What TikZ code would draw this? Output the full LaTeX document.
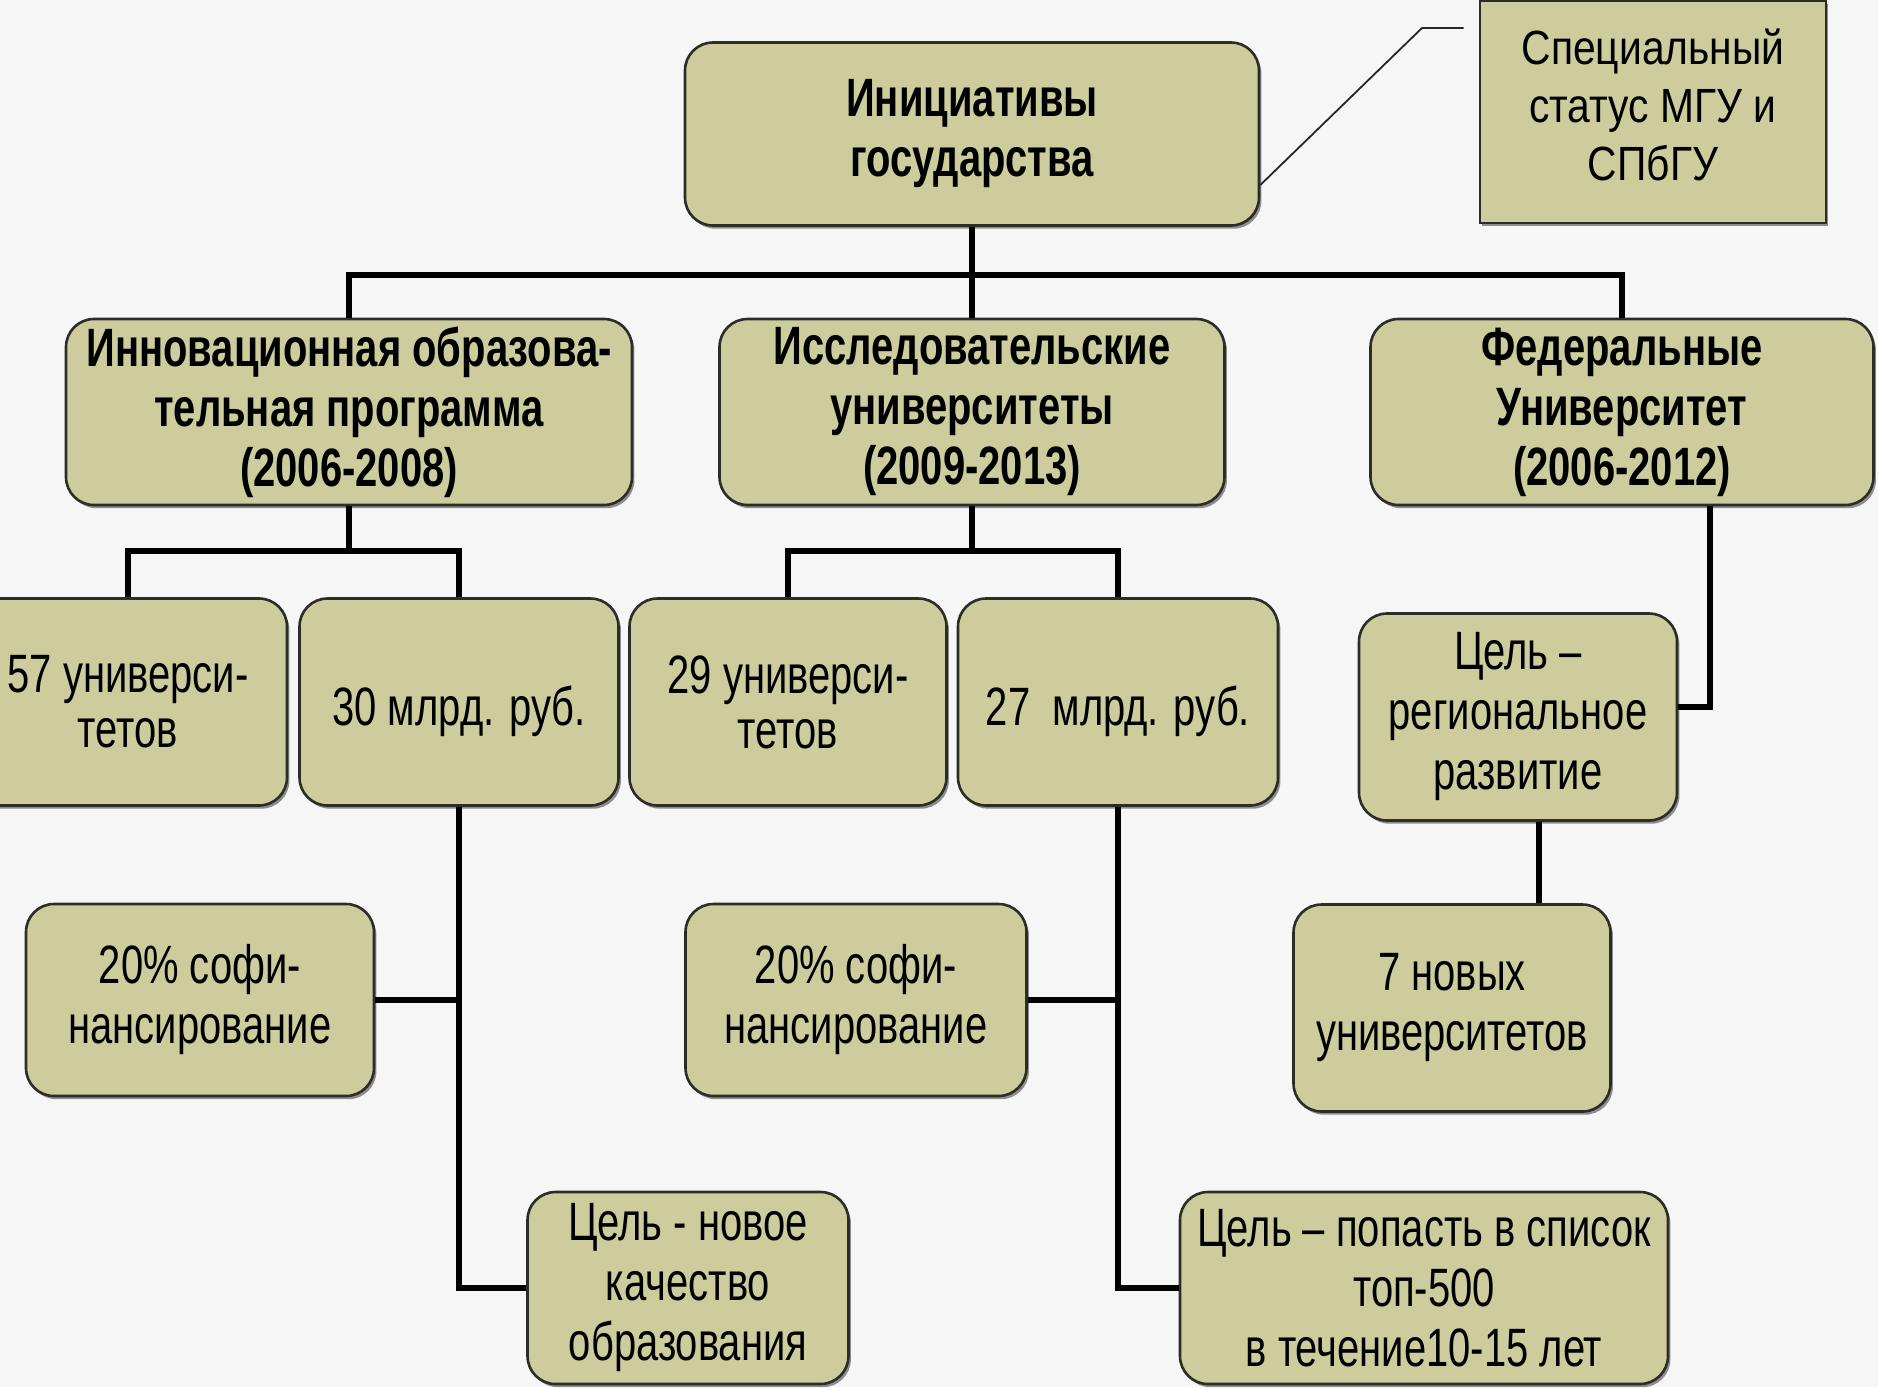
\documentclass[tikz,border=0pt]{standalone}
\usepackage{fontspec}
\setmainfont[FakeStretch=0.74]{Liberation Sans}
\newfontfamily\specfont[FakeStretch=0.85]{Liberation Sans}
\usetikzlibrary{shadows}
\definecolor{boxfill}{RGB}{204,204,156}
\definecolor{bg}{RGB}{246,246,246}
\definecolor{edge}{RGB}{45,45,40}
\newcommand\topstrut[1]{\rule{0pt}{#1}}
\tikzset{
  box/.style={draw=edge, line width=1.3pt, fill=boxfill, rounded corners=14pt,
    align=center, inner sep=2pt,
    execute at begin node={\topstrut{24pt}},
    font=\fontsize{27pt}{30pt}\selectfont,
    drop shadow={shadow xshift=1.2pt, shadow yshift=-1.6pt, fill=black!55, opacity=0.8}},
  lowtext/.style={execute at begin node={\topstrut{29pt}}},
  sqbox/.style={box, rounded corners=0pt, font=\specfont\fontsize{24pt}{29pt}\selectfont,
    execute at begin node={}, execute at end node={\rule[-7pt]{0pt}{0pt}}},
  bold/.style={font=\fontsize{27pt}{30pt}\selectfont\bfseries},
  tight/.style={font=\fontsize{27pt}{27.5pt}\selectfont},
  conn/.style={draw=black, line width=2.6pt},
  thinconn/.style={draw=black!85, line width=0.9pt}
}
\begin{document}
\begin{tikzpicture}[x=0.5pt, y=-0.5pt]
\fill[bg] (0,0) rectangle (1878,1387);
\useasboundingbox (0,0) rectangle (1878,1387);

% nodes
\node[box, bold, minimum width=287pt, minimum height=91.5pt] (T) at (972,134) {Инициативы\\государства};
\node[sqbox, minimum width=173pt, minimum height=111pt] (S) at (1653,112) {Специальный\\статус МГУ и\\СПбГУ};

\node[box, bold, minimum width=283pt, minimum height=93pt] (A) at (349,412) {Инновационная образова-\\тельная программа\\(2006-2008)};
\node[box, bold, minimum width=252.5pt, minimum height=93pt] (B) at (972,412) {Исследовательские\\университеты\\(2009-2013)};
\node[box, bold, minimum width=251.5pt, minimum height=93pt] (C) at (1622,412) {Федеральные\\Университет\\(2006-2012)};

\node[box, tight, minimum width=159pt, minimum height=103.5pt] (A1) at (128,702) {57 универси-\\тетов};
\node[box, lowtext, minimum width=159.5pt, minimum height=103.5pt] (A2) at (459,702) {30 млрд. руб.};
\node[box, tight, minimum width=158.5pt, minimum height=103.5pt] (B1) at (788,702) {29 универси-\\тетов};
\node[box, lowtext, minimum width=160pt, minimum height=103.5pt] (B2) at (1118,702) {27\ \ млрд. руб.};

\node[box, minimum width=174pt, minimum height=96pt] (A3) at (200,1000) {20\% софи-\\нансирование};
\node[box, minimum width=170.5pt, minimum height=96pt] (B3) at (856,1000) {20\% софи-\\нансирование};
\node[box, minimum width=160.5pt, minimum height=96pt] (A4) at (688,1288) {Цель - новое\\качество\\образования};
\node[box, minimum width=244pt, minimum height=96pt] (B4) at (1424,1288) {Цель – попасть в список\\топ-500\\в течение10-15 лет};

\node[box, minimum width=159pt, minimum height=103.5pt] (C1) at (1518,717) {Цель –\\региональное\\развитие};
\node[box, minimum width=158.5pt, minimum height=103.5pt] (C2) at (1452,1008) {7 новых\\университетов};

% connectors
\coordinate (sk) at (1422,28);
\draw[thinconn] ([yshift=-25.5pt]T.east) -- (sk) -- ([xshift=-7.5pt]S.west |- sk);

\draw[conn] (T.south) -- (B.north);
\draw[conn] (A.north) -- (A.north |- 0,275) -- (C.north |- 0,275) -- (C.north);

\draw[conn] (A.south) -- (A.south |- 0,551);
\draw[conn] (A1.north) -- (A1.north |- 0,551) -- (A2.north |- 0,551) -- (A2.north);
\draw[conn] (B.south) -- (B.south |- 0,551);
\draw[conn] (B1.north) -- (B1.north |- 0,551) -- (B2.north |- 0,551) -- (B2.north);

\draw[conn] (A2.south) -- (A2.south |- A4.west) -- (A4.west);
\draw[conn] (A3.east) -- (A3.east -| A2.south);
\draw[conn] (B2.south) -- (B2.south |- B4.west) -- (B4.west);
\draw[conn] (B3.east) -- (B3.east -| B2.south);

\draw[conn] ([xshift=44pt]C.south) -- ([xshift=44pt,yshift=5pt]C.south |- C1.east) -- ([yshift=5pt]C1.east);
\draw[conn] ([xshift=10.5pt]C1.south) -- ([xshift=10.5pt]C1.south |- C2.north);
\end{tikzpicture}
\end{document}
